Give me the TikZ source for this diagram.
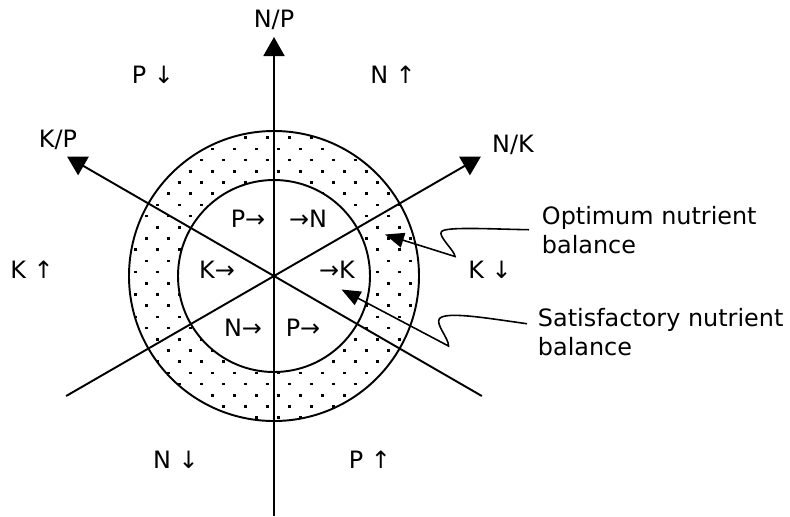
\documentclass[tikz,border=0pt]{standalone}
\usepackage{fontspec}
\setmainfont{DejaVu Sans}
\usetikzlibrary{arrows.meta}

\begin{document}
\begin{tikzpicture}[line width=1.1pt,
    axistip/.style={-{Triangle[length=0.38cm, width=0.42cm]}},
    leader/.style={line width=0.9pt, -{Triangle[length=0.38cm, width=0.3cm]}},
    lbl/.style={inner sep=0pt, font=\fontsize{13.6}{16.5}\selectfont}]
    \useasboundingbox (-5.48,-4.8) rectangle (10.32,5.52);

    % Dotted ring
    \begin{scope}[even odd rule]
        \clip (0,0) circle (2.9) (0,0) circle (1.92);
        \foreach \i in {0,...,27} {
            \foreach \j in {0,...,14} {
                \pgfmathsetmacro{\dotx}{-0.134+0.44*(\j-7)+0.22*mod(\i,2)}
                \pgfmathsetmacro{\doty}{0.078+0.224*(\i-14)}
                \fill (\dotx-0.025,\doty-0.025) rectangle ++(0.05,0.05);
            }
        }
    \end{scope}

    % Circles
    \draw (0,0) circle (2.9);
    \draw (0,0) circle (1.92);

    % Axes
    \coordinate (O) at (0,0);
    \coordinate (NP) at (90:4.78);
    \coordinate (S) at (270:4.8);
    \coordinate (KP) at (150:4.78);
    \coordinate (SE) at (-30:4.8);
    \coordinate (NK) at (30:4.78);
    \coordinate (SW) at (210:4.8);
    \draw[axistip] (S) -- (NP);
    \draw[axistip] (SE) -- (KP);
    \draw[axistip] (SW) -- (NK);

    % Axis labels
    \node[lbl] (npl) at (0,5.12) {N/P};
    \node[lbl] (kpl) at (-4.32,2.72) {K/P};
    \node[lbl] (nkl) at (4.78,2.62) {N/K};

    % Outer sectors
    \node[lbl] (pdown) at (-2.42,4.02) {P ↓};
    \node[lbl] (nup) at (2.38,4.02) {N ↑};
    \node[lbl] (kup) at (-4.84,0.12) {K ↑};
    \node[lbl] (kdown) at (4.32,0.12) {K ↓};
    \node[lbl] (ndown) at (-1.96,-3.68) {N ↓};
    \node[lbl] (pup) at (1.92,-3.68) {P ↑};

    % Inner sectors
    \node[lbl] (pin1) at (-0.52,1.14) {P→};
    \node[lbl] (nin1) at (0.68,1.14) {→N};
    \node[lbl] (kin1) at (-1.14,0.12) {K→};
    \node[lbl] (kin2) at (1.26,0.12) {→K};
    \node[lbl] (nin2) at (-0.62,-1.04) {N→};
    \node[lbl] (pin2) at (0.58,-1.04) {P→};

    % Balance labels
    \node[lbl, anchor=north west, align=left] (optimum) at (5.34,1.42) {Optimum nutrient\\balance};
    \node[lbl, anchor=north west, align=left] (satisf) at (5.26,-0.62) {Satisfactory nutrient\\balance};
    \coordinate (opttip) at (2.22,0.83);
    \coordinate (sattip) at (1.35,-0.27);
    \draw[leader] ([xshift=-0.24cm]optimum.west) .. controls (4.3,0.94) and (3.45,0.99) .. (3.35,0.89)
        .. controls (3.27,0.80) and (3.62,0.50) .. (3.62,0.39) -- (opttip);
    \draw[leader] ([xshift=-0.2cm, yshift=0.16cm]satisf.west) .. controls (4.3,-0.85) and (3.45,-0.70) .. (3.31,-0.85)
        .. controls (3.22,-0.96) and (3.50,-1.25) .. (3.49,-1.40) -- (sattip);
\end{tikzpicture}
\end{document}
